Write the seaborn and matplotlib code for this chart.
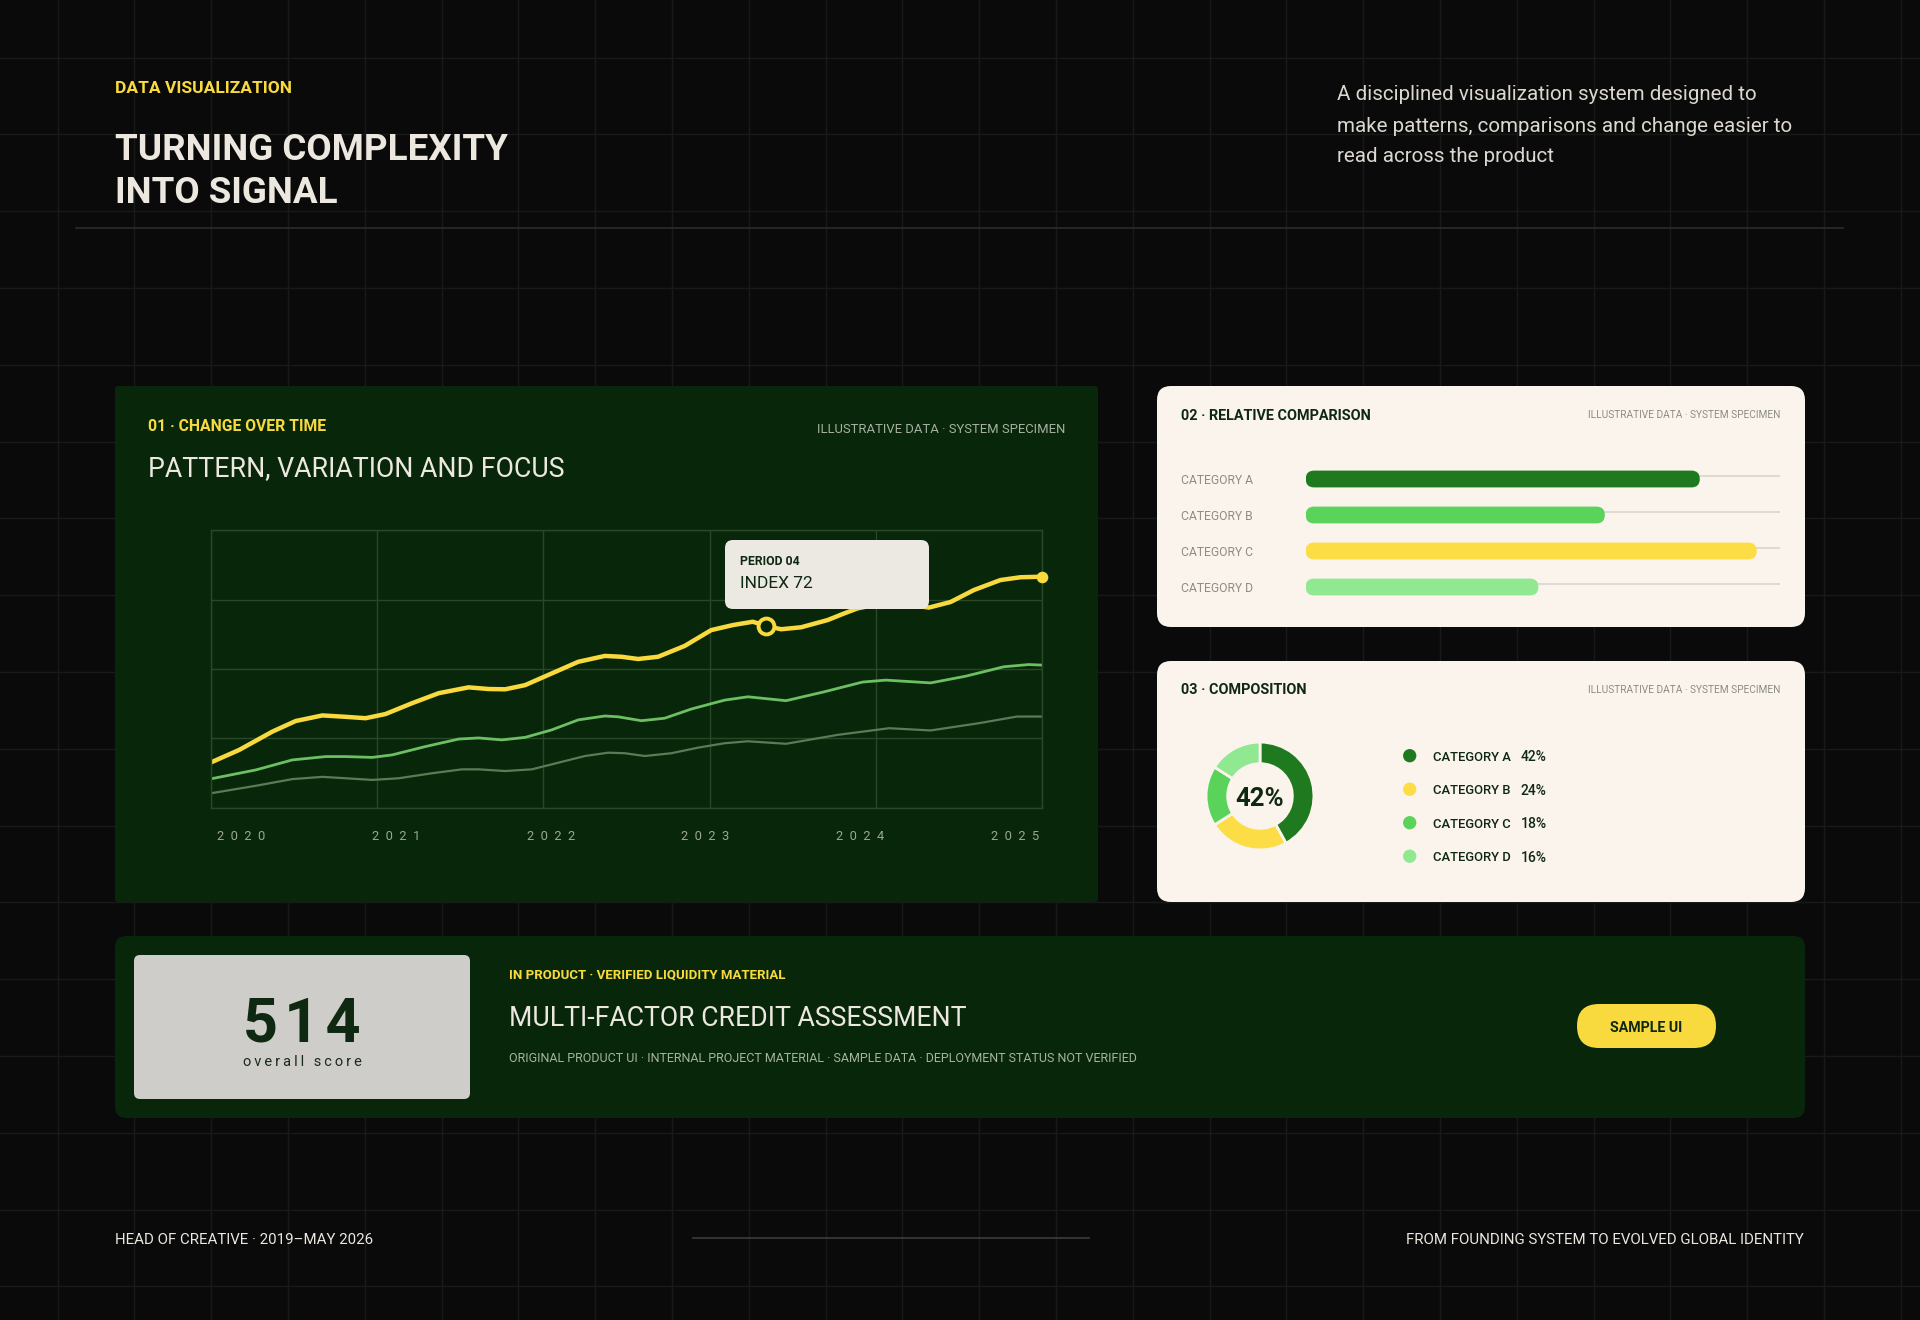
import numpy as np
import pandas as pd
import seaborn as sns
import matplotlib.pyplot as plt
from matplotlib.patches import FancyBboxPatch

# ---- 01 change over time (year, index) ----
year_ticks = [2020, 2021, 2022, 2023, 2024, 2025]
year_labels = ['2  0  2  0', '2  0  2  1', '2  0  2  2', '2  0  2  3', '2  0  2  4', '2  0  2  5']
index_ticks = [0, 25, 50, 75, 100]

focus_x = [2020.00, 2020.17, 2020.37, 2020.51, 2020.67, 2020.81, 2020.93, 2021.05, 2021.21, 2021.37,
           2021.55, 2021.67, 2021.77, 2021.89, 2022.05, 2022.21, 2022.37, 2022.47, 2022.57, 2022.69,
           2022.85, 2023.01, 2023.14, 2023.26, 2023.34, 2023.43, 2023.55, 2023.71, 2023.81, 2023.89,
           2024.07, 2024.21, 2024.32, 2024.45, 2024.59, 2024.75, 2024.87, 2025.00]
focus_y = [16.4, 20.9, 27.5, 31.3, 33.3, 32.8, 32.3, 33.8, 37.7, 41.3,
           43.4, 42.8, 42.7, 44.2, 48.4, 52.6, 54.7, 54.4, 53.6, 54.4,
           58.3, 64.0, 65.8, 67.0, 65.5, 64.3, 65.0, 67.6, 70.0, 71.8,
           74.0, 73.0, 72.1, 74.1, 78.4, 82.0, 83.0, 83.2]

mid_x = [2020.00, 2020.27, 2020.49, 2020.69, 2020.81, 2020.97, 2021.09, 2021.29, 2021.49, 2021.61,
         2021.75, 2021.89, 2022.05, 2022.21, 2022.37, 2022.45, 2022.59, 2022.73, 2022.89, 2023.09,
         2023.23, 2023.46, 2023.69, 2023.92, 2024.06, 2024.33, 2024.54, 2024.77, 2024.92, 2025.00]
mid_y = [10.5, 13.7, 17.3, 18.5, 18.5, 18.2, 19.1, 22.1, 24.8, 25.2,
         24.5, 25.4, 28.1, 31.7, 33.1, 32.8, 31.4, 32.3, 35.6, 38.8,
         40.0, 38.6, 41.8, 45.3, 46.0, 45.0, 47.4, 50.8, 51.6, 51.4]

base_x = [2020.00, 2020.27, 2020.49, 2020.67, 2020.81, 2020.97, 2021.13, 2021.33, 2021.51, 2021.61,
          2021.77, 2021.93, 2022.09, 2022.25, 2022.39, 2022.49, 2022.61, 2022.77, 2022.93, 2023.09,
          2023.23, 2023.46, 2023.77, 2024.08, 2024.33, 2024.62, 2024.85, 2025.00]
base_y = [5.3, 8.0, 10.4, 11.2, 10.7, 10.1, 10.7, 12.5, 13.9, 13.9,
          13.3, 13.9, 16.3, 18.7, 19.9, 19.7, 18.7, 19.7, 21.7, 23.3,
          24.0, 23.1, 26.3, 28.7, 27.9, 30.5, 32.9, 32.9]

focus_period = 2023.34
focus_value = 65.5
tip_period = 'PERIOD 04'
tip_index = 'INDEX 72'

# ---- 02 relative comparison ----
bar_categories = ['CATEGORY A', 'CATEGORY B', 'CATEGORY C', 'CATEGORY D']
bar_values = [83, 63, 95, 49]
bar_colors = ['#1f7a1f', '#5ad35a', '#fddd45', '#90e890']

# ---- 03 composition ----
share_categories = ['CATEGORY A', 'CATEGORY B', 'CATEGORY C', 'CATEGORY D']
share_values = [42, 24, 18, 16]
share_colors = ['#1f7a1f', '#fddd45', '#5ad35a', '#90e890']

score = '514'

W, H = 1920, 1320
BG = '#0a0a0a'
DARK = '#08270a'
CREAM = '#faf4ec'
YELLOW = '#f9da3e'
INK = '#0f2812'
WHITE = '#ece8e0'

plt.rcParams['font.family'] = ['Roboto', 'DejaVu Sans']

fig = plt.figure(figsize=(W / 100, H / 100), dpi=100, facecolor=BG)


def box(x0, y0, x1, y1):
    # pixel box (top-left origin) -> figure fraction
    return [x0 / W, 1 - y1 / H, (x1 - x0) / W, (y1 - y0) / H]


# background canvas with the faint layout grid
bg = fig.add_axes([0, 0, 1, 1], zorder=0)
bg.set_xlim(0, W)
bg.set_ylim(H, 0)
bg.set_facecolor(BG)
bg.set_xticks(np.arange(57.6, W, 76.8))
bg.set_yticks(np.arange(57.6, H, 76.8))
bg.set_axisbelow(True)
bg.grid(True, color='#171a17', lw=1)
bg.tick_params(length=0, labelbottom=False, labelleft=False)
for s in bg.spines.values():
    s.set_visible(False)


def panel(x0, y0, x1, y1, color, r, ax=bg, z=1):
    ax.add_patch(FancyBboxPatch((x0, y0), x1 - x0, y1 - y0,
                                boxstyle=f'round,pad=0,rounding_size={r}',
                                fc=color, ec='none', zorder=z))


panel(115, 386, 1098, 902, DARK, 3)
panel(1157, 386, 1805, 627, CREAM, 14)
panel(1157, 661, 1805, 902, CREAM, 14)
panel(115, 936, 1805, 1118, DARK, 12)
panel(134, 955, 470, 1099, '#cfcdc9', 6)
panel(1577, 1004, 1716, 1048, YELLOW, 22)
bg.plot([76, 1843], [228, 228], color='#2c2c2c', lw=1.2, zorder=1)
bg.plot([693, 1089], [1238, 1238], color='#3c3c3c', lw=1.2, zorder=1)

# ---- line chart ----
ax = fig.add_axes(box(211, 530, 1042, 808), zorder=2)
ax.set_facecolor('none')
sns.lineplot(x=base_x, y=base_y, ax=ax, color='#5d7a57', lw=1.6, solid_joinstyle='round')
sns.lineplot(x=mid_x, y=mid_y, ax=ax, color='#6cbf62', lw=2.0, solid_joinstyle='round')
sns.lineplot(x=focus_x, y=focus_y, ax=ax, color=YELLOW, lw=3.2,
             solid_capstyle='round', solid_joinstyle='round')
sns.scatterplot(x=[focus_x[-1]], y=[focus_y[-1]], ax=ax, color=YELLOW, s=70,
                linewidth=0, clip_on=False, zorder=5)
sns.scatterplot(x=[focus_period], y=[focus_value], ax=ax, color=DARK, s=130,
                edgecolor=YELLOW, linewidth=2.8, zorder=6)
ax.set_xlim(2020, 2025)
ax.set_ylim(0, 100)
ax.set_xticks(year_ticks)
ax.set_xticklabels([])
ax.set_yticks(index_ticks)
ax.set_yticklabels([])
ax.set_xticks(np.linspace(2020.18, 2024.84, len(year_labels)), minor=True)
ax.set_xticklabels(year_labels, minor=True)
ax.tick_params(which='both', length=0)
ax.tick_params(axis='x', which='minor', pad=15.5, labelsize=9.3, labelcolor='#9aa793')
ax.grid(True, which='major', color='#2a4727', lw=1)
for s in ax.spines.values():
    s.set_color('#2a4727')
    s.set_linewidth(1)
ax.set_xlabel('')
ax.set_ylabel('')

# ---- bars (rounded) ----
x0_px, x1_px, row_px, bar_px = 1305.7, 1780.5, 36, 16.8
bx = fig.add_axes(box(x0_px, 461, x1_px, 461 + 4 * row_px), zorder=2)
bx.set_facecolor('none')
bar_df = pd.DataFrame({'category': bar_categories, 'value': bar_values})
sns.barplot(data=bar_df, x='value', y='category', hue='category', palette=bar_colors,
            legend=False, errorbar=None, width=bar_px / row_px, saturation=1,
            linewidth=0, ax=bx)
bx.set_xlim(0, 100)
bx.set_ylim(3.5, -0.5)
x_per_px = 100 / (x1_px - x0_px)
aspect = (1 / row_px) / x_per_px
radius = bar_px / 2 * x_per_px * 0.995
for p in list(bx.patches):
    x, y, w, h = p.get_x(), p.get_y(), p.get_width(), p.get_height()
    fc = p.get_facecolor()
    p.remove()
    bx.add_patch(FancyBboxPatch((x, y), w, h, boxstyle=f'round,pad=0,rounding_size={radius}',
                                mutation_aspect=aspect, fc=fc, ec='none', zorder=3))
bx.hlines(np.arange(len(bar_categories)) - 0.08, 0, 100, color='#d9d4cc', lw=1.2, zorder=1)
bx.set_xticks([])
bx.tick_params(length=0, pad=89.8, labelsize=8.7, labelcolor='#8e8c86')
for lbl in bx.get_yticklabels():
    lbl.set_ha('left')
for s in bx.spines.values():
    s.set_visible(False)
bx.set_xlabel('')
bx.set_ylabel('')

# ---- donut ----
dx = fig.add_axes(box(1205, 741, 1315, 851), zorder=2)
dx.pie(share_values, colors=share_colors, startangle=90, counterclock=False, radius=1,
       wedgeprops=dict(width=0.4, edgecolor=CREAM, linewidth=2))
dx.set_xlim(-1.02, 1.02)
dx.set_ylim(-1.02, 1.02)

# ---- overlay: tooltip, legend and all copy ----
top = fig.add_axes([0, 0, 1, 1], zorder=5)
top.set_xlim(0, W)
top.set_ylim(H, 0)
top.set_axis_off()
top.patch.set_visible(False)


def txt(x, y, s, size, color, weight='normal', ha='left'):
    top.text(x, y, s, fontsize=size, color=color, fontweight=weight, ha=ha, va='center_baseline')


panel(725, 540, 929, 609, '#ece9e3', 8, ax=top, z=3)
txt(740, 560, tip_period, 8.8, INK, 'bold')
txt(740, 582, tip_index, 12.5, INK)

txt(115, 87, 'DATA VISUALIZATION', 12.5, YELLOW, 'bold')
txt(115, 146, 'TURNING COMPLEXITY', 26.5, WHITE, 'semibold')
txt(115, 189, 'INTO SIGNAL', 26.5, WHITE, 'semibold')
txt(1337, 93, 'A disciplined visualization system designed to', 14.8, '#dcd8d0')
txt(1337, 124, 'make patterns, comparisons and change easier to', 14.8, '#dcd8d0')
txt(1337, 155, 'read across the product', 14.8, '#dcd8d0')

txt(148, 425, '01 · CHANGE OVER TIME', 11.3, YELLOW, 'bold')
txt(1065, 428, 'ILLUSTRATIVE DATA · SYSTEM SPECIMEN', 9.4, '#a7b1a1', ha='right')
txt(148, 466, 'PATTERN, VARIATION AND FOCUS', 19.3, WHITE)

txt(1181, 414, '02 · RELATIVE COMPARISON', 10.4, INK, 'bold')
txt(1780, 414, 'ILLUSTRATIVE DATA · SYSTEM SPECIMEN', 7.3, '#8e8c86', ha='right')
txt(1181, 689, '03 · COMPOSITION', 10.4, INK, 'bold')
txt(1780, 689, 'ILLUSTRATIVE DATA · SYSTEM SPECIMEN', 7.3, '#8e8c86', ha='right')

txt(1260, 796, f'{share_values[0]}%', 18.5, INK, 'bold', ha='center')
legend_y = 755.7 + 33.5 * np.arange(len(share_categories))
top.scatter(np.full(len(share_categories), 1409.7), legend_y, s=92, c=share_colors, linewidths=0, zorder=4)
for yy, cat, val in zip(legend_y, share_categories, share_values):
    txt(1432.8, yy, cat, 9.4, INK, 'medium')
    txt(1520.4, yy, f'{val}%', 10, INK, 'medium')

txt(302, 1019, '\u200a'.join(score), 44, INK, 'semibold', ha='center')
txt(302, 1060, '\u2009'.join('overall score'), 10.5, '#1a2a1a', ha='center')
txt(509, 973, 'IN PRODUCT · VERIFIED LIQUIDITY MATERIAL', 9.5, YELLOW, 'bold')
txt(509, 1016, 'MULTI-FACTOR CREDIT ASSESSMENT', 19.2, WHITE)
txt(509, 1057, 'ORIGINAL PRODUCT UI · INTERNAL PROJECT MATERIAL · SAMPLE DATA · DEPLOYMENT STATUS NOT VERIFIED',
    9, '#a8b2a2')
txt(1646.5, 1026, 'SAMPLE UI', 10.2, INK, 'bold', ha='center')

txt(115, 1238, 'HEAD OF CREATIVE · 2019–MAY 2026', 10.8, WHITE)
txt(1804, 1238, 'FROM FOUNDING SYSTEM TO EVOLVED GLOBAL IDENTITY', 10.8, WHITE, ha='right')

fig.savefig('out.png', dpi=100, facecolor=BG)
